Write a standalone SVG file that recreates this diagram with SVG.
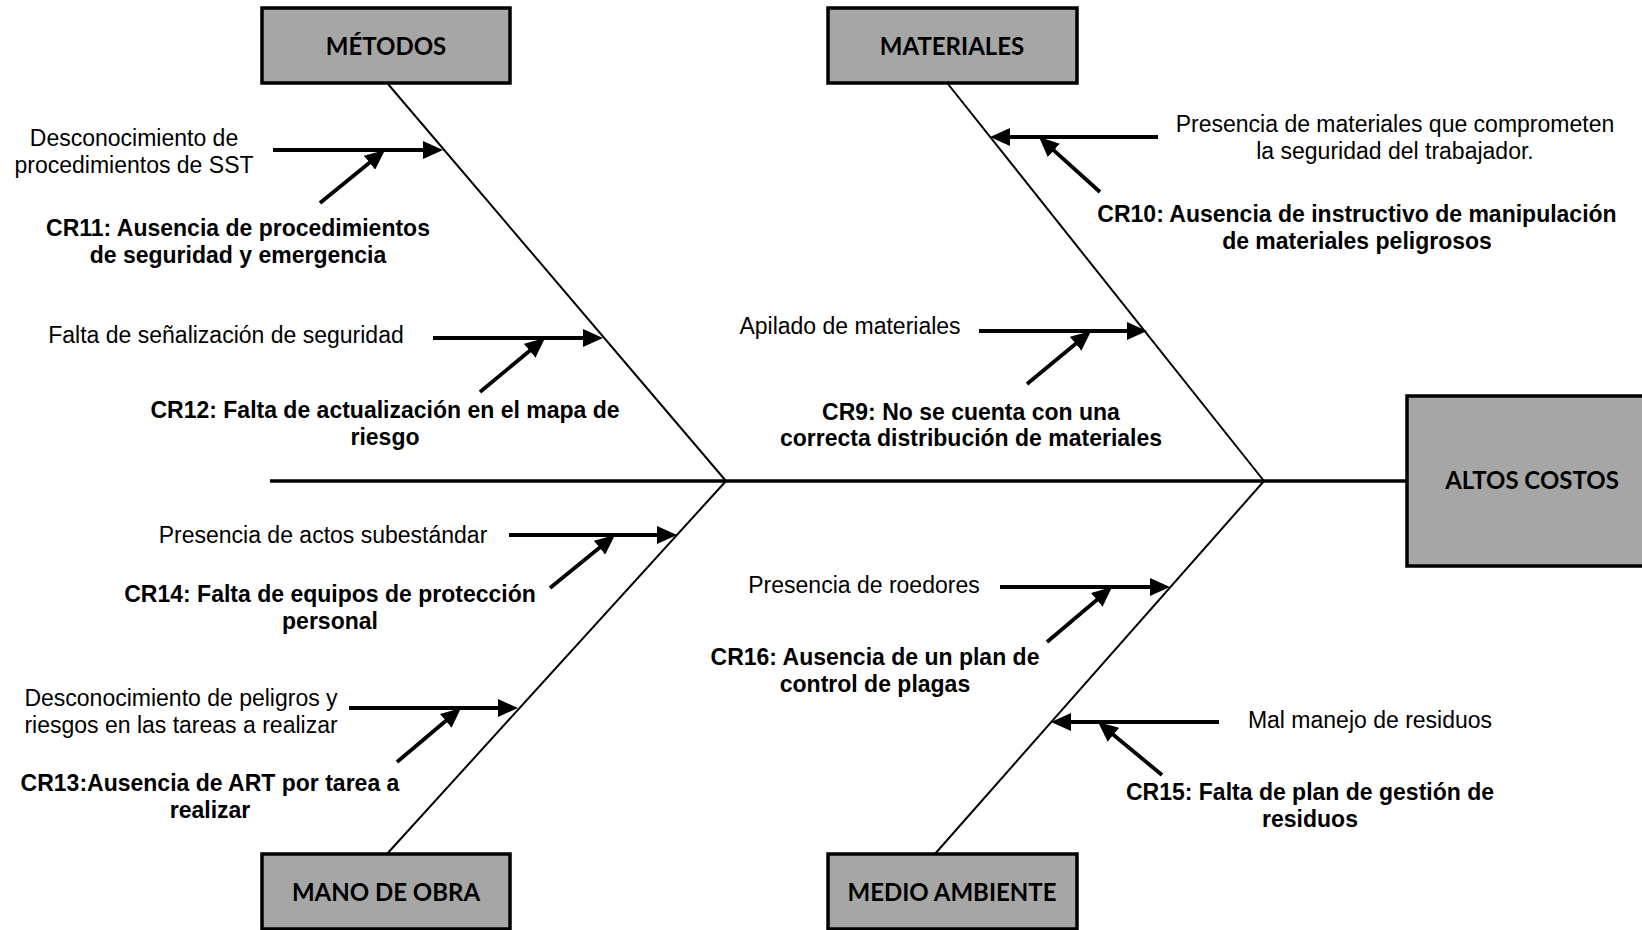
<svg xmlns="http://www.w3.org/2000/svg" width="1642" height="930" viewBox="0 0 1642 930">
  <style>
    .box { fill: #a6a6a6; stroke: #000; stroke-width: 3.5; }
    .boxlbl { font-family: Lato, "Open Sans", sans-serif; font-weight: 700; font-size: 24px; fill: #000; text-anchor: middle; }
    .cause { font-family: "Liberation Sans", Arial, sans-serif; font-size: 23px; fill: #000; text-anchor: middle; }
    .root { font-family: "Liberation Sans", Arial, sans-serif; font-size: 23px; font-weight: 700; fill: #000; text-anchor: middle; }
    .spine { stroke: #000; stroke-width: 3.5; fill: none; }
    .bone { stroke: #000; stroke-width: 2; fill: none; }
    .arrow { stroke: #000; stroke-width: 3.8; fill: none; marker-end: url(#head); }
  </style>
  <defs>
    <marker id="head" markerUnits="userSpaceOnUse" markerWidth="20" markerHeight="18" refX="15" refY="9" orient="auto">
      <path d="M0,0 L20,9 L0,18 Z" fill="#000"/>
    </marker>
  </defs>

  <rect width="1642" height="930" fill="#fff"/>

  <!-- category boxes -->
  <g id="metodos">
    <rect class="box" x="262" y="8" width="248" height="75"/>
    <text class="boxlbl" x="386" y="55">MÉTODOS</text>
  </g>
  <g id="materiales">
    <rect class="box" x="828" y="8" width="249" height="75"/>
    <text class="boxlbl" x="952" y="55">MATERIALES</text>
  </g>
  <g id="mano-de-obra">
    <rect class="box" x="262" y="854" width="248" height="75"/>
    <text class="boxlbl" x="386" y="901">MANO DE OBRA</text>
  </g>
  <g id="medio-ambiente">
    <rect class="box" x="828" y="854" width="249" height="75"/>
    <text class="boxlbl" x="952" y="901">MEDIO AMBIENTE</text>
  </g>
  <g id="altos-costos">
    <rect class="box" x="1407" y="396" width="250" height="170"/>
    <text class="boxlbl" x="1532" y="489">ALTOS COSTOS</text>
  </g>

  <!-- spine, bones and cause arrows -->
  <g id="connectors">
    <line class="spine" x1="270" y1="481" x2="1407" y2="481"/>
    <line class="bone" x1="388" y1="84" x2="726" y2="481"/>
    <line class="bone" x1="948" y1="84" x2="1264" y2="481"/>
    <line class="bone" x1="726" y1="481" x2="386" y2="855"/>
    <line class="bone" x1="1264" y1="481" x2="934" y2="855"/>

    <line class="arrow" x1="273" y1="150" x2="438" y2="150"/>
    <line class="arrow" x1="320" y1="203" x2="381.1" y2="153.2"/>
    <line class="arrow" x1="433" y1="338" x2="598" y2="338"/>
    <line class="arrow" x1="480" y1="392" x2="541.2" y2="341.2"/>

    <line class="arrow" x1="1158" y1="137" x2="995" y2="137"/>
    <line class="arrow" x1="1100" y1="192" x2="1042.7" y2="140.4"/>
    <line class="arrow" x1="979" y1="331" x2="1142" y2="331"/>
    <line class="arrow" x1="1027" y1="384" x2="1087.2" y2="334.2"/>

    <line class="arrow" x1="509" y1="535" x2="672" y2="535"/>
    <line class="arrow" x1="550" y1="588" x2="611.1" y2="538.2"/>
    <line class="arrow" x1="349" y1="708" x2="513" y2="708"/>
    <line class="arrow" x1="397" y1="762" x2="457.2" y2="711.2"/>

    <line class="arrow" x1="1000" y1="587" x2="1165" y2="587"/>
    <line class="arrow" x1="1047" y1="642" x2="1108.2" y2="590.2"/>
    <line class="arrow" x1="1219" y1="722" x2="1056" y2="722"/>
    <line class="arrow" x1="1162" y1="775" x2="1101.9" y2="725.2"/>
  </g>

  <!-- causes: métodos -->
  <g id="c-sst">
    <text class="cause" x="134" y="146">Desconocimiento de</text>
    <text class="cause" x="134" y="173">procedimientos de SST</text>
  </g>
  <g id="cr11">
    <text class="root" x="238" y="236">CR11: Ausencia de procedimientos</text>
    <text class="root" x="238" y="263">de seguridad y emergencia</text>
  </g>
  <g id="c-senal">
    <text class="cause" x="226" y="343">Falta de señalización de seguridad</text>
  </g>
  <g id="cr12">
    <text class="root" x="385" y="418">CR12: Falta de actualización en el mapa de</text>
    <text class="root" x="385" y="445">riesgo</text>
  </g>

  <!-- causes: materiales -->
  <g id="c-presencia-mat">
    <text class="cause" x="1395" y="132">Presencia de materiales que comprometen</text>
    <text class="cause" x="1395" y="159">la seguridad del trabajador.</text>
  </g>
  <g id="cr10">
    <text class="root" x="1357" y="222">CR10: Ausencia de instructivo de manipulación</text>
    <text class="root" x="1357" y="249">de materiales peligrosos</text>
  </g>
  <g id="c-apilado">
    <text class="cause" x="850" y="334">Apilado de materiales</text>
  </g>
  <g id="cr9">
    <text class="root" x="971" y="420">CR9: No se cuenta con una</text>
    <text class="root" x="971" y="446">correcta distribución de materiales</text>
  </g>

  <!-- causes: mano de obra -->
  <g id="c-actos">
    <text class="cause" x="323" y="543">Presencia de actos subestándar</text>
  </g>
  <g id="cr14">
    <text class="root" x="330" y="602">CR14: Falta de equipos de protección</text>
    <text class="root" x="330" y="629">personal</text>
  </g>
  <g id="c-peligros">
    <text class="cause" x="181" y="706">Desconocimiento de peligros y</text>
    <text class="cause" x="181" y="733">riesgos en las tareas a realizar</text>
  </g>
  <g id="cr13">
    <text class="root" x="210" y="791">CR13:Ausencia de ART por tarea a</text>
    <text class="root" x="210" y="818">realizar</text>
  </g>

  <!-- causes: medio ambiente -->
  <g id="c-roedores">
    <text class="cause" x="864" y="593">Presencia de roedores</text>
  </g>
  <g id="cr16">
    <text class="root" x="875" y="665">CR16: Ausencia de un plan de</text>
    <text class="root" x="875" y="692">control de plagas</text>
  </g>
  <g id="c-residuos">
    <text class="cause" x="1370" y="728">Mal manejo de residuos</text>
  </g>
  <g id="cr15">
    <text class="root" x="1310" y="800">CR15: Falta de plan de gestión de</text>
    <text class="root" x="1310" y="827">residuos</text>
  </g>
</svg>
